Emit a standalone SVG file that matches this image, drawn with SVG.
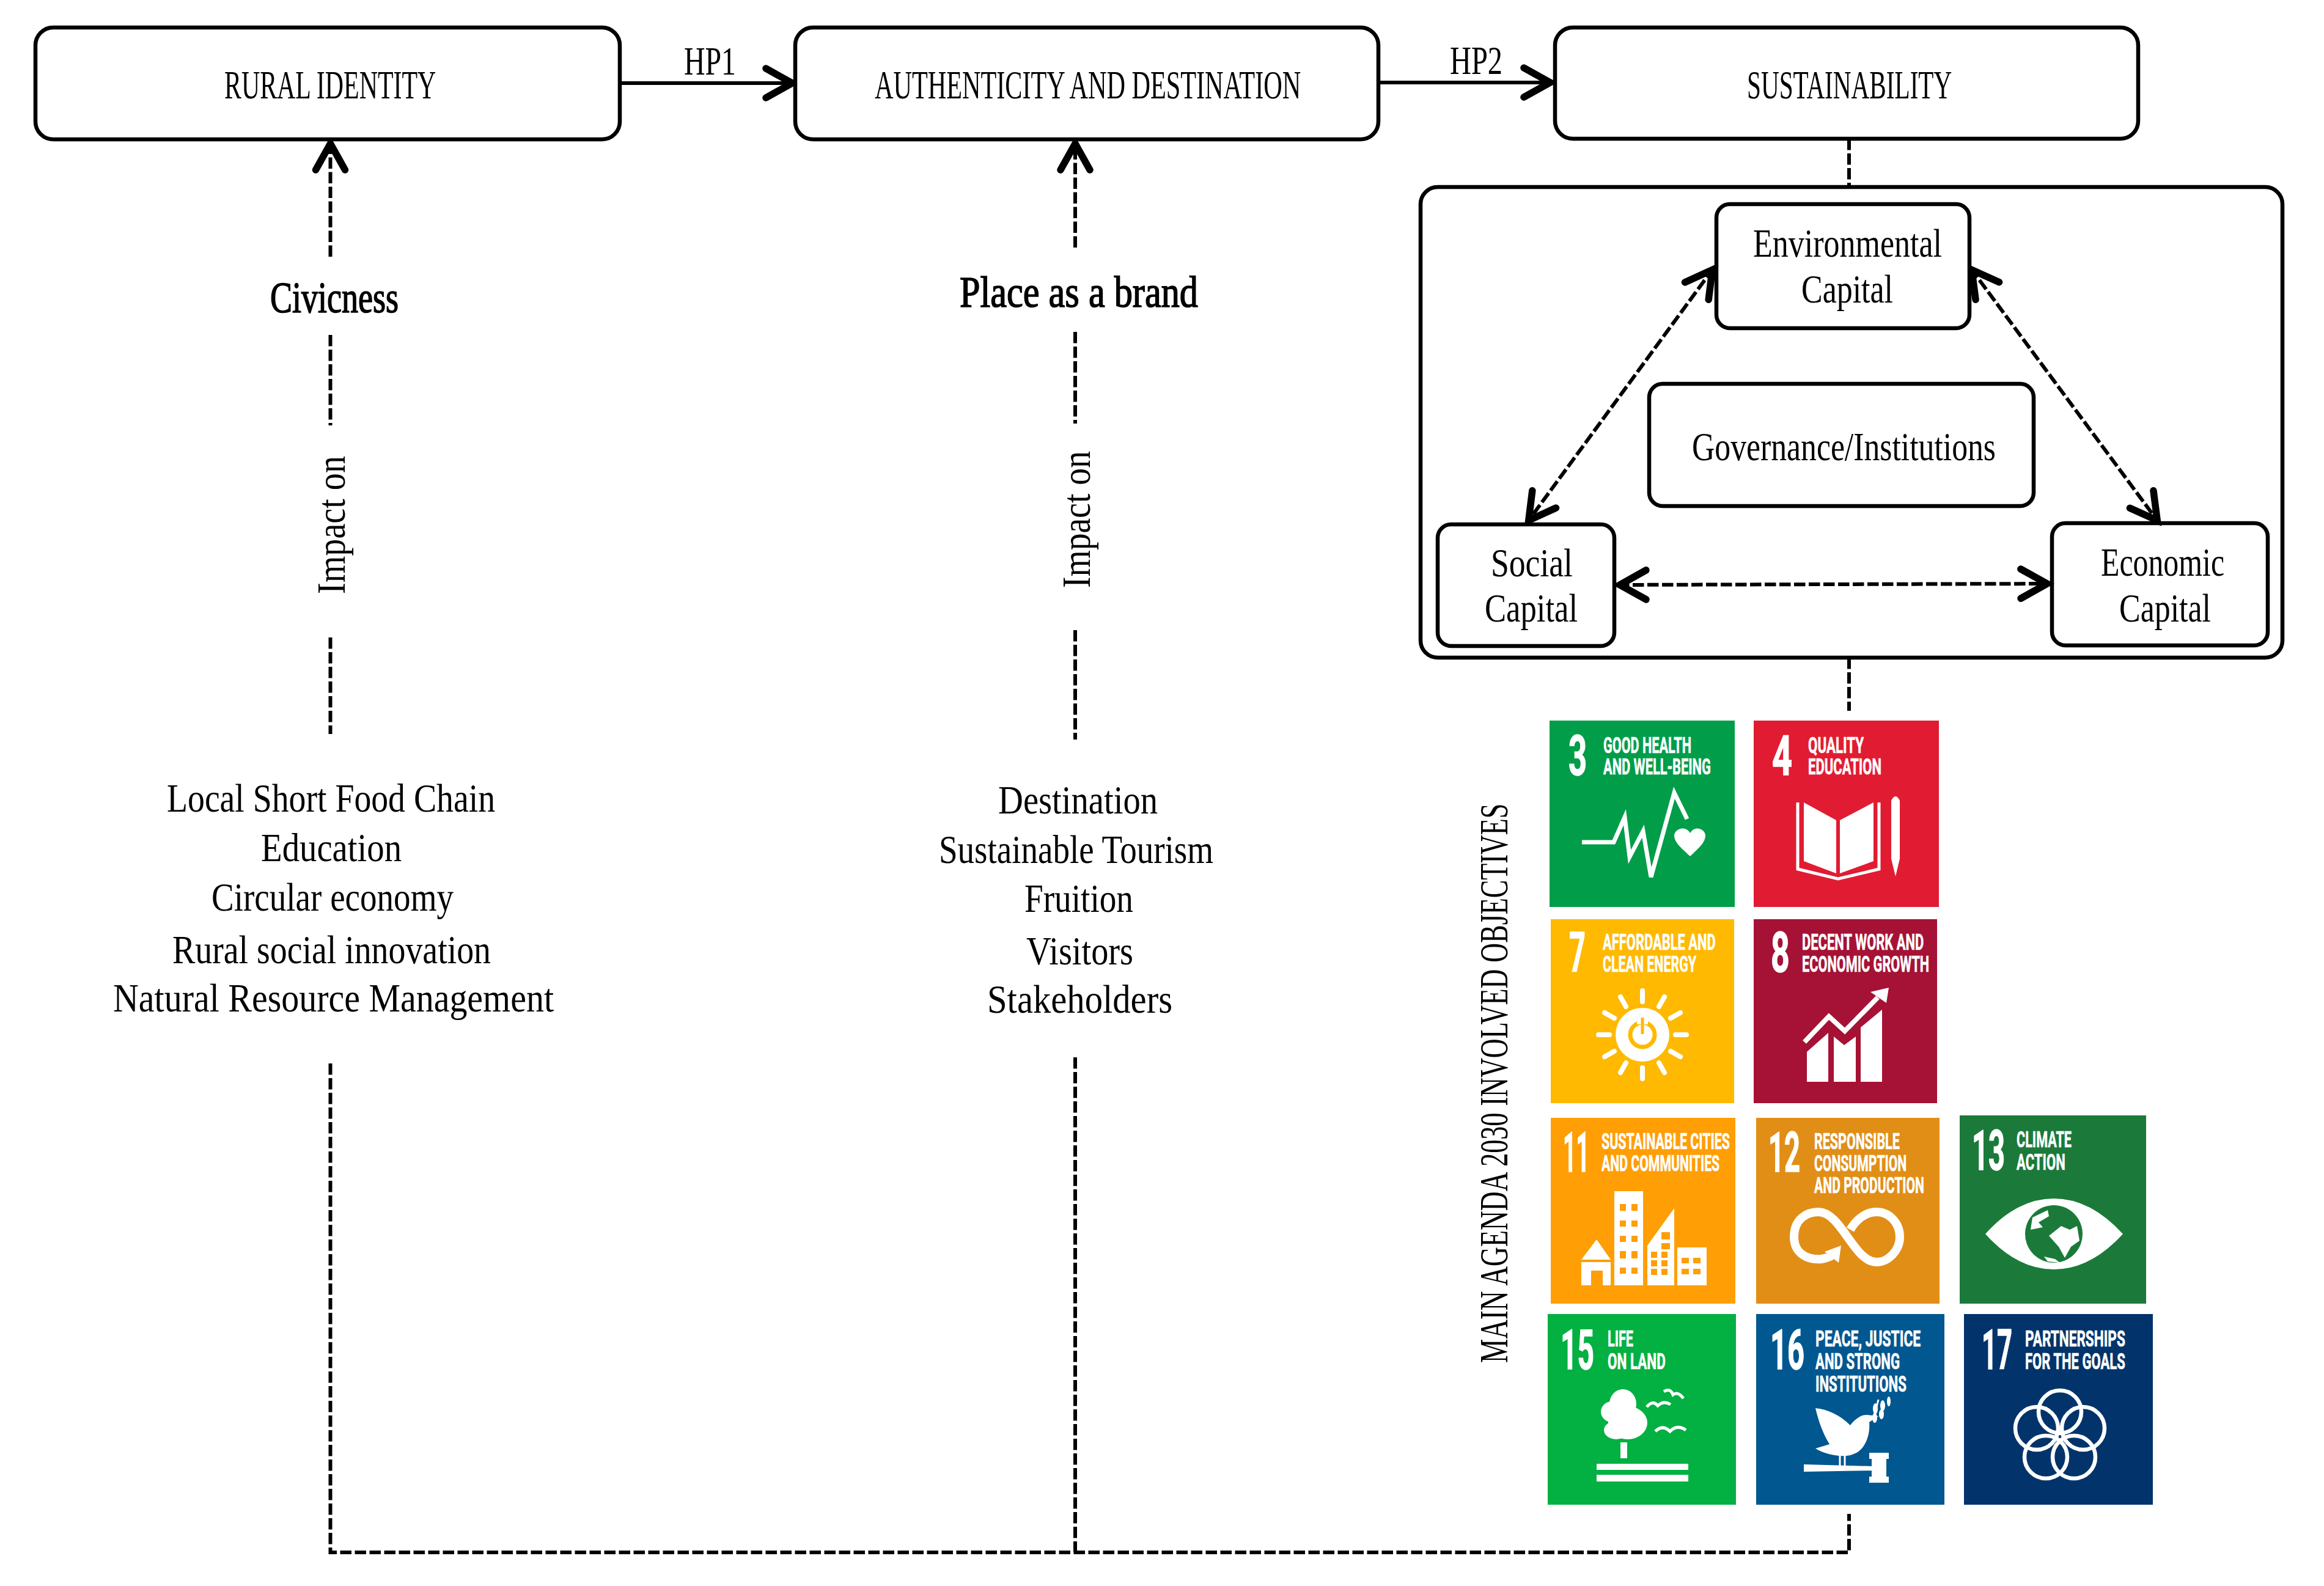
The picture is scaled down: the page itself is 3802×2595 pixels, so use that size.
<svg xmlns="http://www.w3.org/2000/svg" width="3802" height="2595" viewBox="0 0 3802 2595">
<style>
.box{fill:#fff;stroke:#000;stroke-width:6.5}
.l{font-family:"Liberation Serif","Times New Roman",serif;font-size:65px;fill:#000}
.h{font-size:71px;stroke:#000;stroke-width:1.6}
.solid{fill:none;stroke:#000;stroke-width:6}
.dash{fill:none;stroke:#000;stroke-width:6;stroke-dasharray:18.5 5.5}
.arr{marker-end:url(#head)}
.both{marker-start:url(#head);marker-end:url(#head)}
.t{font-family:Roboto,"Liberation Sans",sans-serif;font-weight:700;font-size:37px;fill:#fff;stroke:#fff;stroke-width:.7}
.n{font-family:Roboto,"Liberation Sans",sans-serif;font-weight:700;font-size:91px;fill:#fff;stroke:#fff;stroke-width:1.5}
.w{fill:#fff}
.ws{fill:none;stroke:#fff}
</style>
<defs>
<marker id="head" markerUnits="userSpaceOnUse" viewBox="-70 -40 80 80" markerWidth="80" markerHeight="80" refX="0" refY="0" orient="auto-start-reverse">
<path d="M-46 -24L-3 0L-46 24" fill="none" stroke="#000" stroke-width="11.5" stroke-linecap="round" stroke-linejoin="miter"/>
</marker>
</defs>
<rect width="3802" height="2595" fill="#fff"/>

<g id="connectors">
<path class="solid arr" d="M1015 136H1299"/>
<path class="solid arr" d="M2256 135H2539"/>
<path class="dash arr" d="M540.5 420V232"/>
<path class="dash" d="M540.5 548V696"/>
<path class="dash" d="M540.5 1043V1201"/>
<path class="dash arr" d="M1759 405V232"/>
<path class="dash" d="M1759 543V693"/>
<path class="dash" d="M1759 1031V1210"/>
<path class="dash" d="M3025 227V306"/>
<path class="dash" d="M3025 1076V1163"/>
<path class="dash" d="M540.5 1740V2540H3025V2477"/>
<path class="dash" d="M1759 1730V2540"/>
</g>

<g id="rural-identity"><rect class="box" x="58" y="45" width="956" height="183" rx="29"/>
<text class="l" transform="translate(367 161) scale(.58 1)" textLength="597" lengthAdjust="spacingAndGlyphs">RURAL IDENTITY</text></g>
<g id="authenticity"><rect class="box" x="1301" y="45" width="954" height="183" rx="29"/>
<text class="l" transform="translate(1431 161) scale(.58 1)" textLength="1202" lengthAdjust="spacingAndGlyphs">AUTHENTICITY AND DESTINATION</text></g>
<g id="sustainability"><rect class="box" x="2544" y="45" width="954" height="182" rx="29"/>
<text class="l" transform="translate(2858 161) scale(.58 1)" textLength="578" lengthAdjust="spacingAndGlyphs">SUSTAINABILITY</text></g>

<g id="label-hp1"><text class="l" x="1119" y="122" textLength="85" lengthAdjust="spacingAndGlyphs">HP1</text></g>
<g id="label-hp2"><text class="l" x="2372" y="121" textLength="86" lengthAdjust="spacingAndGlyphs">HP2</text></g>

<g id="capitals-frame"><rect class="box" x="2324" y="306" width="1410" height="770" rx="28"/></g>
<g id="environmental-capital"><rect class="box" x="2808" y="334" width="414" height="203" rx="22"/>
<text class="l" x="2868" y="420" textLength="309" lengthAdjust="spacingAndGlyphs">Environmental</text>
<text class="l" x="2947" y="495" textLength="150" lengthAdjust="spacingAndGlyphs">Capital</text></g>
<g id="governance"><rect class="box" x="2698" y="628" width="629" height="200" rx="22"/>
<text class="l" x="2768" y="753" textLength="497" lengthAdjust="spacingAndGlyphs">Governance/Institutions</text></g>
<g id="social-capital"><rect class="box" x="2352" y="858" width="289" height="199" rx="22"/>
<text class="l" x="2439" y="943" textLength="134" lengthAdjust="spacingAndGlyphs">Social</text>
<text class="l" x="2429" y="1017" textLength="152" lengthAdjust="spacingAndGlyphs">Capital</text></g>
<g id="economic-capital"><rect class="box" x="3357" y="856" width="353" height="200" rx="22"/>
<text class="l" x="3437" y="942" textLength="202" lengthAdjust="spacingAndGlyphs">Economic</text>
<text class="l" x="3467" y="1017" textLength="150" lengthAdjust="spacingAndGlyphs">Capital</text></g>

<g id="capital-connectors">
<path class="dash both" d="M2803 439L2499 854"/>
<path class="dash both" d="M3224 439L3531 854"/>
<path class="dash both" d="M2647 957L3352 955"/>
</g>

<g id="civicness"><text class="l h" x="442" y="511" textLength="210" lengthAdjust="spacingAndGlyphs">Civicness</text></g>
<g id="place-as-a-brand"><text class="l h" x="1570" y="502" textLength="390" lengthAdjust="spacingAndGlyphs">Place as a brand</text></g>
<g id="impact-1"><text class="l" transform="translate(564 972) rotate(-90)" textLength="226" lengthAdjust="spacingAndGlyphs">Impact on</text></g>
<g id="impact-2"><text class="l" transform="translate(1783 962) rotate(-90)" textLength="224" lengthAdjust="spacingAndGlyphs">Impact on</text></g>

<g id="rural-list">
<text class="l" x="273" y="1328" textLength="537" lengthAdjust="spacingAndGlyphs">Local Short Food Chain</text>
<text class="l" x="427" y="1409" textLength="230" lengthAdjust="spacingAndGlyphs">Education</text>
<text class="l" x="346" y="1490" textLength="396" lengthAdjust="spacingAndGlyphs">Circular economy</text>
<text class="l" x="282" y="1576" textLength="521" lengthAdjust="spacingAndGlyphs">Rural social innovation</text>
<text class="l" x="185" y="1655" textLength="721" lengthAdjust="spacingAndGlyphs">Natural Resource Management</text>
</g>
<g id="place-list">
<text class="l" x="1633" y="1331" textLength="261" lengthAdjust="spacingAndGlyphs">Destination</text>
<text class="l" x="1536" y="1412" textLength="449" lengthAdjust="spacingAndGlyphs">Sustainable Tourism</text>
<text class="l" x="1676" y="1492" textLength="178" lengthAdjust="spacingAndGlyphs">Fruition</text>
<text class="l" x="1679" y="1578" textLength="175" lengthAdjust="spacingAndGlyphs">Visitors</text>
<text class="l" x="1615" y="1657" textLength="303" lengthAdjust="spacingAndGlyphs">Stakeholders</text>
</g>
<g id="agenda-label"><text class="l" transform="translate(2466 2230) rotate(-90) scale(.65 1)" textLength="1408" lengthAdjust="spacingAndGlyphs">MAIN AGENDA 2030 INVOLVED OBJECTIVES</text></g>

<g id="sdg-3"><rect x="2535" y="1179" width="303" height="305" fill="#019D49"/>
<text class="n" transform="translate(2566 1268) scale(.58 1)" textLength="52" lengthAdjust="spacingAndGlyphs">3</text>
<text class="t" transform="translate(2623 1232) scale(.6 1)" textLength="240" lengthAdjust="spacingAndGlyphs">GOOD HEALTH</text>
<text class="t" transform="translate(2623 1267) scale(.6 1)" textLength="293" lengthAdjust="spacingAndGlyphs">AND WELL-BEING</text>
<path class="ws" stroke-width="7" d="M2588 1378H2640L2658 1337L2666 1402L2688 1360L2701 1435L2739 1297L2760 1340"/>
<path class="w" d="M2765 1401C2750 1387 2739 1378 2739 1367C2739 1357 2757 1349 2765 1363C2773 1349 2790 1357 2790 1367C2790 1378 2780 1387 2765 1401Z"/></g>

<g id="sdg-4"><rect x="2869" y="1179" width="303" height="305" fill="#E11C32"/>
<text class="n" transform="translate(2899 1268) scale(.58 1)" textLength="57" lengthAdjust="spacingAndGlyphs">4</text>
<text class="t" transform="translate(2958 1232) scale(.6 1)" textLength="152" lengthAdjust="spacingAndGlyphs">QUALITY</text>
<text class="t" transform="translate(2958 1267) scale(.6 1)" textLength="200" lengthAdjust="spacingAndGlyphs">EDUCATION</text>
<path class="w" d="M2951 1313L3004 1342V1429L2951 1409ZM3010 1342L3065 1313V1409L3010 1429Z"/>
<path class="ws" stroke-width="5" d="M2941 1313V1422L3007 1438L3074 1422V1313"/>
<path class="w" d="M3094 1310Q3101 1296 3108 1310V1405L3101 1434L3094 1405Z"/></g>

<g id="sdg-7"><rect x="2537" y="1504" width="300" height="301" fill="#FFB900"/>
<text class="n" transform="translate(2567 1590) scale(.55 1)" textLength="49" lengthAdjust="spacingAndGlyphs">7</text>
<text class="t" transform="translate(2622 1554) scale(.6 1)" textLength="308" lengthAdjust="spacingAndGlyphs">AFFORDABLE AND</text>
<text class="t" transform="translate(2622 1590) scale(.6 1)" textLength="255" lengthAdjust="spacingAndGlyphs">CLEAN ENERGY</text>
<circle class="w" cx="2687" cy="1693" r="44"/>
<circle cx="2687" cy="1693" r="20" fill="none" stroke="#FFB900" stroke-width="7"/>
<rect class="w" x="2678" y="1664" width="18" height="12"/>
<path stroke="#FFB900" stroke-width="5" d="M2687 1665V1692"/>
<g stroke="#fff" stroke-width="8" stroke-linecap="round">
<path d="M2687 1621V1639M2687 1765V1747M2615 1693H2633M2759 1693H2741"/>
<path d="M2651 1631L2660 1647M2723 1631L2714 1647M2651 1755L2660 1739M2723 1755L2714 1739"/>
<path d="M2625 1657L2641 1666M2749 1657L2733 1666M2625 1729L2641 1720M2749 1729L2733 1720"/>
</g></g>

<g id="sdg-8"><rect x="2869" y="1504" width="300" height="301" fill="#A51235"/>
<text class="n" transform="translate(2897 1590) scale(.58 1)" textLength="53" lengthAdjust="spacingAndGlyphs">8</text>
<text class="t" transform="translate(2948 1554) scale(.6 1)" textLength="332" lengthAdjust="spacingAndGlyphs">DECENT WORK AND</text>
<text class="t" transform="translate(2948 1590) scale(.6 1)" textLength="347" lengthAdjust="spacingAndGlyphs">ECONOMIC GROWTH</text>
<path class="w" d="M2956 1721L2991 1690V1770H2956ZM3000 1696L3017 1710L3036 1696V1770H3000ZM3044 1681L3079 1652V1770H3044Z"/>
<path class="ws" stroke-width="8" d="M2952 1705L2992 1663L3018 1687L3072 1632"/>
<path class="w" d="M3090 1616L3060 1623L3086 1641Z"/></g>

<g id="sdg-11"><rect x="2537" y="1829" width="302" height="304" fill="#FF9E05"/>
<text class="n" transform="translate(2557 1917) scale(.45 1)" textLength="96" lengthAdjust="spacingAndGlyphs">11</text>
<text class="t" transform="translate(2620 1880) scale(.6 1)" textLength="350" lengthAdjust="spacingAndGlyphs">SUSTAINABLE CITIES</text>
<text class="t" transform="translate(2620 1916) scale(.6 1)" textLength="322" lengthAdjust="spacingAndGlyphs">AND COMMUNITIES</text>
<path class="w" fill-rule="evenodd" d="M2587 2061L2612 2028L2635 2061ZM2587 2065H2635V2103H2622V2079H2603V2103H2587ZM2641 1949H2688V2103H2641ZM2695 2038L2739 1977V2103H2695ZM2744 2041H2792V2103H2744Z"/>
<g fill="#FF9E05">
<path d="M2650 1970h10v11h-10zM2669 1970h10v11h-10zM2650 1997h10v10h-10zM2669 1997h10v10h-10zM2650 2022h10v10h-10zM2669 2022h10v10h-10zM2650 2047h10v12h-10zM2669 2047h10v12h-10zM2650 2074h10v10h-10zM2669 2074h10v10h-10z"/>
<path d="M2701 2048h10v10h-10zM2718 2048h10v10h-10zM2701 2062h10v10h-10zM2718 2062h10v10h-10zM2701 2076h10v10h-10zM2718 2076h10v10h-10zM2718 2016h14v12h-14zM2718 2034h14v10h-14z"/>
<path d="M2751 2058h12v9h-12zM2770 2058h12v9h-12zM2751 2076h12v9h-12zM2770 2076h12v9h-12z"/>
</g></g>

<g id="sdg-12"><rect x="2873" y="1829" width="300" height="304" fill="#E18E17"/>
<text class="n" transform="translate(2893 1917) scale(.5 1)" textLength="104" lengthAdjust="spacingAndGlyphs">12</text>
<text class="t" transform="translate(2968 1880) scale(.6 1)" textLength="233" lengthAdjust="spacingAndGlyphs">RESPONSIBLE</text>
<text class="t" transform="translate(2968 1916) scale(.6 1)" textLength="252" lengthAdjust="spacingAndGlyphs">CONSUMPTION</text>
<text class="t" transform="translate(2968 1952) scale(.6 1)" textLength="300" lengthAdjust="spacingAndGlyphs">AND PRODUCTION</text>
<path class="ws" stroke-width="14" d="M3000 2052C2980 2068 2935 2062 2935 2024C2935 1995 2955 1983 2975 1983C3012 1983 3033 2065 3070 2065C3090 2065 3108 2045 3108 2024C3108 2000 3090 1983 3070 1983C3050 1983 3035 1998 3027 2012"/>
<path class="w" d="M3012 2038L2985 2048L3008 2066Z"/></g>

<g id="sdg-13"><rect x="3206" y="1825" width="305" height="308" fill="#1B7A39"/>
<text class="n" transform="translate(3226 1914) scale(.5 1)" textLength="108" lengthAdjust="spacingAndGlyphs">13</text>
<text class="t" transform="translate(3299 1877) scale(.6 1)" textLength="150" lengthAdjust="spacingAndGlyphs">CLIMATE</text>
<text class="t" transform="translate(3299 1914) scale(.6 1)" textLength="133" lengthAdjust="spacingAndGlyphs">ACTION</text>
<path class="w" d="M3248 2019Q3300 1961 3360 1961Q3420 1961 3473 2019Q3420 2077 3360 2077Q3300 2077 3248 2019Z"/>
<circle cx="3360" cy="2019" r="47" fill="#1B7A39"/>
<path class="w" d="M3325 1992L3350 1980L3352 1990L3335 2000L3342 2008L3322 2012ZM3352 2022L3372 2006L3386 2012L3398 2006L3402 2030L3388 2040L3378 2058L3368 2040ZM3344 2056L3362 2060L3370 2066L3350 2064Z"/></g>

<g id="sdg-15"><rect x="2532" y="2150" width="308" height="312" fill="#03B042"/>
<text class="n" transform="translate(2553 2240) scale(.5 1)" textLength="110" lengthAdjust="spacingAndGlyphs">15</text>
<text class="t" transform="translate(2630 2203) scale(.6 1)" textLength="70" lengthAdjust="spacingAndGlyphs">LIFE</text>
<text class="t" transform="translate(2630 2240) scale(.6 1)" textLength="158" lengthAdjust="spacingAndGlyphs">ON LAND</text>
<ellipse class="w" cx="2655" cy="2297" rx="22" ry="24"/><ellipse class="w" cx="2637" cy="2310" rx="18" ry="17"/><ellipse class="w" cx="2663" cy="2328" rx="32" ry="27"/><ellipse class="w" cx="2644" cy="2340" rx="20" ry="15"/>
<rect class="w" x="2651" y="2360" width="11" height="26"/>
<rect class="w" x="2612" y="2395" width="150" height="10"/><rect class="w" x="2612" y="2413" width="150" height="11"/>
<path class="ws" stroke-width="5" d="M2722 2277Q2732 2270 2737 2282Q2745 2276 2754 2288M2694 2302Q2704 2290 2712 2300Q2722 2291 2733 2298M2708 2342Q2720 2330 2732 2342Q2744 2330 2758 2340"/></g>

<g id="sdg-16"><rect x="2873" y="2150" width="308" height="312" fill="#015790"/>
<text class="n" transform="translate(2896 2240) scale(.5 1)" textLength="112" lengthAdjust="spacingAndGlyphs">16</text>
<text class="t" transform="translate(2970 2203) scale(.6 1)" textLength="287" lengthAdjust="spacingAndGlyphs">PEACE, JUSTICE</text>
<text class="t" transform="translate(2970 2240) scale(.6 1)" textLength="230" lengthAdjust="spacingAndGlyphs">AND STRONG</text>
<text class="t" transform="translate(2970 2277) scale(.6 1)" textLength="248" lengthAdjust="spacingAndGlyphs">INSTITUTIONS</text>
<path class="w" d="M2970 2304C2990 2306 3010 2315 3027 2332C3035 2322 3044 2315 3054 2315L3073 2317L3058 2327C3060 2350 3050 2372 3035 2378C3020 2386 2990 2382 2970 2370L2993 2363C2982 2345 2975 2325 2970 2304Z"/>
<path class="ws" stroke-width="3" d="M3010 2380V2398M3018 2380V2398M3066 2318L3073 2290"/>
<path class="w" d="M2951 2396L3062 2399V2406L2951 2408ZM3058 2377H3090V2387H3086V2416H3090V2426H3058V2416H3062V2387H3058Z"/>
<ellipse class="w" cx="3068" cy="2305" rx="4" ry="9"/><ellipse class="w" cx="3080" cy="2300" rx="4" ry="9"/><ellipse class="w" cx="3067" cy="2320" rx="4" ry="8"/><ellipse class="w" cx="3078" cy="2314" rx="4" ry="8"/><ellipse class="w" cx="3090" cy="2293" rx="3" ry="8"/></g>

<g id="sdg-17"><rect x="3213" y="2150" width="309" height="312" fill="#02346B"/>
<text class="n" transform="translate(3242 2240) scale(.5 1)" textLength="100" lengthAdjust="spacingAndGlyphs">17</text>
<text class="t" transform="translate(3313 2203) scale(.6 1)" textLength="273" lengthAdjust="spacingAndGlyphs">PARTNERSHIPS</text>
<text class="t" transform="translate(3313 2240) scale(.6 1)" textLength="273" lengthAdjust="spacingAndGlyphs">FOR THE GOALS</text>
<g class="ws" stroke-width="6.5"><circle cx="3370" cy="2310" r="35"/><circle cx="3332" cy="2337" r="35"/><circle cx="3408" cy="2337" r="35"/><circle cx="3347" cy="2384" r="35"/><circle cx="3393" cy="2384" r="35"/></g></g>
</svg>
